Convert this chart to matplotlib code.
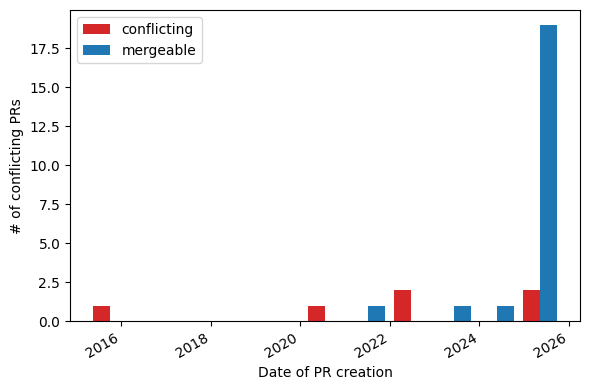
import numpy as np
import matplotlib
matplotlib.use("Agg")
import matplotlib.dates as mdates
from matplotlib import pyplot as plt

# histogram range of PR creation dates and number of bins
first_pr = "2015-04-16"
last_pr = "2025-10-30"
n_bins = 11

# PR counts per bin
conflicting = [1, 0, 0, 0, 0, 1, 0, 2, 0, 0, 2]
mergeable = [0, 0, 0, 0, 0, 0, 1, 0, 1, 1, 19]
labels = ["conflicting", "mergeable"]
colors = ["tab:red", "tab:blue"]

edges = np.linspace(mdates.datestr2num(first_pr), mdates.datestr2num(last_pr), n_bins + 1)
centers = (edges[:-1] + edges[1:]) / 2

fig, ax = plt.subplots(figsize=(5.89, 3.9), dpi=100)
ax.hist([centers, centers], bins=edges, weights=[conflicting, mergeable],
        color=colors, label=labels)
ax.xaxis_date()
ax.xaxis.set_major_locator(mdates.YearLocator(2))
ax.xaxis.set_major_formatter(mdates.DateFormatter("%Y"))
ax.set_xlabel("Date of PR creation")
ax.set_ylabel("# of conflicting PRs")
ax.legend(loc="upper left")
fig.autofmt_xdate()
fig.subplots_adjust(left=0.119, right=0.985, top=0.974, bottom=0.176)
fig.savefig("out.png")
